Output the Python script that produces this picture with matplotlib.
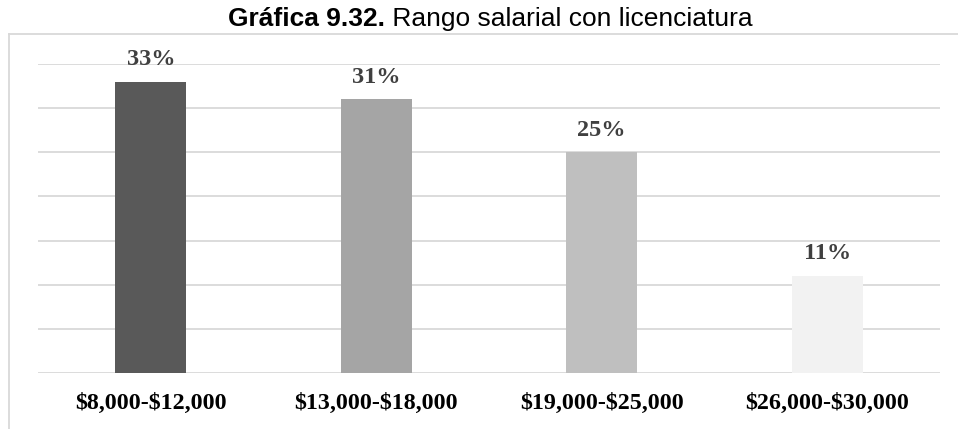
import matplotlib.pyplot as plt
from matplotlib.lines import Line2D

categories = ['$8,000-$12,000', '$13,000-$18,000', '$19,000-$25,000', '$26,000-$30,000']
values = [33, 31, 25, 11]
colors = ['#595959', '#a5a5a5', '#bfbfbf', '#f2f2f2']

W, H = 958, 429
fig = plt.figure(figsize=(W / 100, H / 100), dpi=100)
ax = fig.add_axes([38 / W, 1 - 373 / H, (940 - 38) / W, (373 - 64) / H])

x = range(len(categories))
ax.bar(x, values, width=0.315, color=colors, zorder=2)
ax.set_xlim(-0.5, len(categories) - 0.5)
ax.set_ylim(0, 35)
ax.set_yticks(range(0, 36, 5))
ax.yaxis.grid(True, color='#d9d9d9', linewidth=1.3, zorder=0)
ax.tick_params(axis='y', left=False, labelleft=False)
ax.tick_params(axis='x', bottom=False, pad=11)
for s in ax.spines.values():
    s.set_visible(False)
ax.set_xticks(list(x))
# escape the dollar signs so they are not read as mathtext
ax.set_xticklabels([c.replace('$', r'\$') for c in categories],
                   family='Liberation Serif', fontweight='bold',
                   fontsize=17.3, color='black')

for i, v in enumerate(values):
    ax.annotate(f'{v}%', (i, v), xytext=(0, 12), textcoords='offset points',
                ha='center', va='baseline', family='Liberation Serif',
                fontweight='bold', fontsize=17.5, color='#404040')

# outer frame of the chart area
fig.add_artist(Line2D([9 / W, 9 / W], [0, 1 - 34 / H], color='#d9d9d9', lw=1.3))
fig.add_artist(Line2D([9 / W, 1], [1 - 34 / H, 1 - 34 / H], color='#d9d9d9', lw=1.3))

# title: bold figure number followed by regular text, centred as one line
t1 = fig.text(0, 1 - 26 / H, 'Gráfica 9.32.', family='Liberation Sans',
              fontweight='bold', fontsize=19, va='baseline', ha='left')
t2 = fig.text(0, 1 - 26 / H, ' Rango salarial con licenciatura', family='Liberation Sans',
              fontsize=19, va='baseline', ha='left')
fig.canvas.draw()
r = fig.canvas.get_renderer()
w1 = t1.get_window_extent(r).width
w2 = t2.get_window_extent(r).width
x0 = 490 - (w1 + w2) / 2
t1.set_x(x0 / W)
t2.set_x((x0 + w1) / W)

fig.savefig('out.png', dpi=100)
